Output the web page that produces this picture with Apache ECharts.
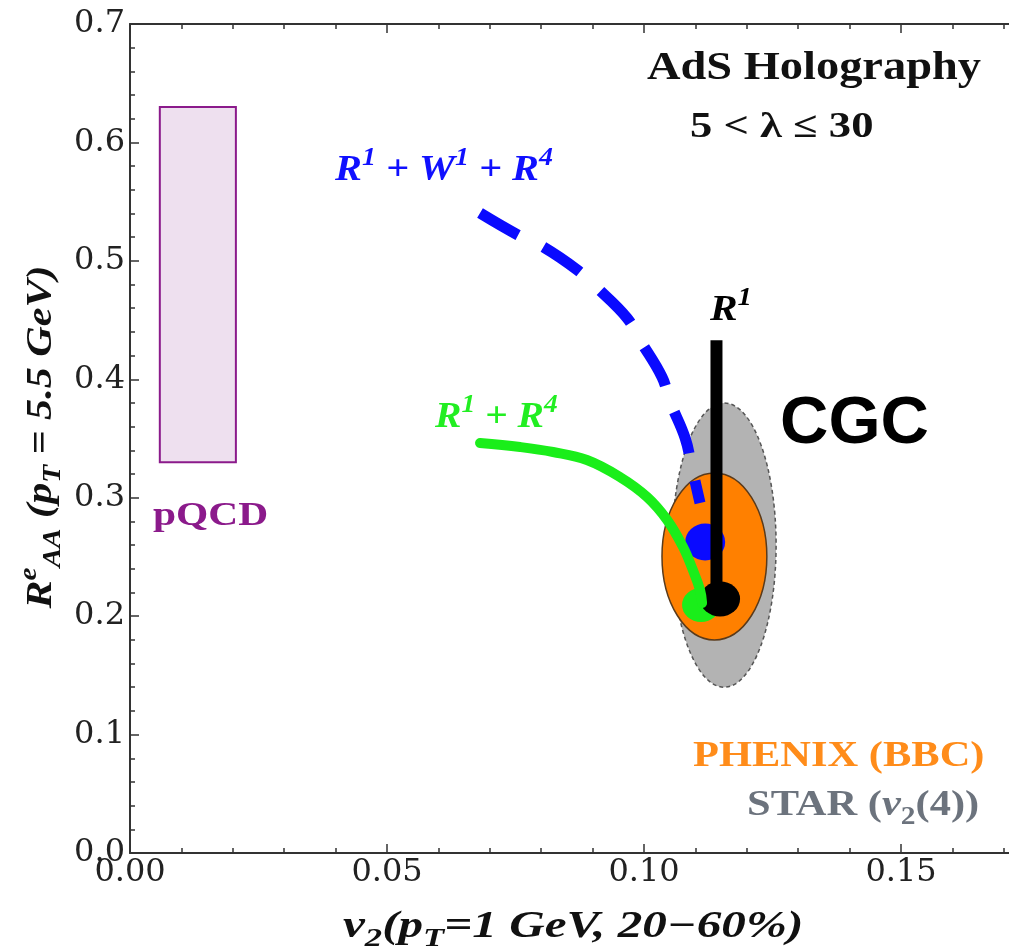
<!DOCTYPE html>
<html><head><meta charset="utf-8">
<script src="https://cdn.jsdelivr.net/npm/echarts@6/dist/echarts.min.js"></script>
<style>html,body{margin:0;padding:0;background:#fff}#c{width:1009px;height:949px}</style>
</head><body><div id="c"></div>
<script>
// ---- data ----
const xTickLabels = ['0.00', '0.05', '0.10', '0.15'];
const yTickLabels = ['0.0', '0.1', '0.2', '0.3', '0.4', '0.5', '0.6', '0.7'];

// pQCD band: [xMin, xMax, yMin, yMax]
const pqcdBox = [0.0058, 0.0206, 0.33, 0.63];
// ellipses: [centerX, centerY, halfWidthX, halfHeightY]
const starEllipse = [0.1156, 0.260, 0.0101, 0.120];
const phenixEllipse = [0.1137, 0.2504, 0.0102, 0.0705];

// R1+W1+R4 (blue dashed)
const blueX = [0.0681, 0.0755, 0.0804, 0.0870, 0.0909, 0.0967, 0.0992, 0.1035, 0.1051, 0.1080, 0.1093, 0.1109];
const blueY = [0.5404, 0.5218, 0.5117, 0.4923, 0.4771, 0.4518, 0.4332, 0.4019, 0.3808, 0.3504, 0.3259, 0.2955];
// R1+R4 (green)
const greenX = [0.0681, 0.0759, 0.0823, 0.0889, 0.0953, 0.1006, 0.1045, 0.1076, 0.1095, 0.1109, 0.1113];
const greenY = [0.3462, 0.3428, 0.3386, 0.3318, 0.3175, 0.3006, 0.2812, 0.2584, 0.2390, 0.2221, 0.2111];
// R1 (black vertical)
const r1X = [0.1141, 0.1141];
const r1Y = [0.433, 0.2145];

const blueDot = [0.1119, 0.2626];
const greenDot = [0.1111, 0.2094];
const blackDot = [0.1148, 0.2145];

// ---- helpers ----
const zip = (xs, ys) => xs.map((x, i) => [x, ys[i]]);
const SERIF = 'Liberation Serif';

function label(x, baseline, text, color, size, o) {
  o = o || {};
  const fam = o.family || SERIF;
  const L = Math.round(size * 1.35);
  const ss = Math.round(size * 0.7);
  const base = { fontFamily: fam, fontWeight: o.weight || 'bold', fill: color };
  const rich = {
    i: Object.assign({}, base, { fontSize: size, lineHeight: L, fontStyle: 'italic', verticalAlign: 'middle' }),
    n: Object.assign({}, base, { fontSize: size, lineHeight: L, fontStyle: 'normal', verticalAlign: 'middle' }),
    u: Object.assign({}, base, { fontSize: ss, lineHeight: ss + 8, fontStyle: o.italic ? 'italic' : 'normal', verticalAlign: 'top' }),
    d: Object.assign({}, base, { fontSize: ss, lineHeight: ss + 2, fontStyle: o.italic ? 'italic' : 'normal', verticalAlign: 'bottom' })
  };
  const el = {
    type: 'text', z: 100,
    scaleX: o.scaleX || 1,
    style: { text: text, rich: rich, align: o.align || 'left', verticalAlign: 'top' }
  };
  if (o.rotate) {
    el.x = x; el.y = baseline;
    el.rotation = o.rotate;
    el.style.verticalAlign = 'middle';
  } else {
    el.x = x;
    el.y = baseline - L / 2 - 0.3375 * size;
  }
  return el;
}

const axisCol = '#333';
const tickFmt = (labels, dec) => v => {
  const s = v.toFixed(dec);
  return labels.indexOf(s) >= 0 ? s : '';
};
function xAx(pos, showLabel) {
  return {
    type: 'value', position: pos, min: 0, max: 0.2, interval: 0.05,
    axisLine: { show: true, onZero: false, lineStyle: { color: axisCol, width: 2 } },
    axisTick: { show: true, inside: true, length: 9, lineStyle: { color: axisCol, width: 1.5 } },
    minorTick: { show: true, splitNumber: 5, length: 5, lineStyle: { color: axisCol, width: 1.5 } },
    splitLine: { show: false },
    axisLabel: { show: showLabel, formatter: tickFmt(xTickLabels, 2), fontFamily: 'DejaVu Serif', fontSize: 32, color: '#222', margin: 4 }
  };
}

const chart = echarts.init(document.getElementById('c'), null, { renderer: 'canvas' });

const option = {
  animation: false,
  backgroundColor: '#fff',
  grid: { left: 130, width: 1028, top: 24, bottom: 96, containLabel: false, outerBoundsMode: 'none' },
  xAxis: [xAx('bottom', true), xAx('top', false)],
  yAxis: {
    type: 'value', min: 0, max: 0.7, interval: 0.1,
    axisLine: { show: true, onZero: false, lineStyle: { color: axisCol, width: 2 } },
    axisTick: { show: true, inside: true, length: 9, lineStyle: { color: axisCol, width: 1.5 } },
    minorTick: { show: true, splitNumber: 5, length: 5, lineStyle: { color: axisCol, width: 1.5 } },
    splitLine: { show: false },
    axisLabel: { formatter: tickFmt(yTickLabels, 1), fontFamily: 'DejaVu Serif', fontSize: 32, color: '#222', margin: 5 }
  },
  series: [
    {
      type: 'custom', silent: true, data: [pqcdBox], encode: { x: [0, 1], y: [2, 3] },
      renderItem: (p, api) => {
        const a = api.coord([api.value(0), api.value(3)]);
        const b = api.coord([api.value(1), api.value(2)]);
        return { type: 'rect', shape: { x: a[0], y: a[1], width: b[0] - a[0], height: b[1] - a[1] },
          style: { fill: '#eee0ef', stroke: '#8b1a8b', lineWidth: 2 } };
      }
    },
    {
      type: 'custom', silent: true, data: [starEllipse], encode: { x: 0, y: 1 },
      renderItem: (p, api) => {
        const c = api.coord([api.value(0), api.value(1)]);
        const s = api.size([api.value(2), api.value(3)]);
        return { type: 'ellipse', shape: { cx: c[0], cy: c[1], rx: s[0], ry: s[1] },
          style: { fill: '#b3b3b3', stroke: '#555', lineWidth: 1.5, lineDash: [4, 3] } };
      }
    },
    {
      type: 'custom', silent: true, data: [phenixEllipse], encode: { x: 0, y: 1 },
      renderItem: (p, api) => {
        const c = api.coord([api.value(0), api.value(1)]);
        const s = api.size([api.value(2), api.value(3)]);
        return { type: 'ellipse', shape: { cx: c[0], cy: c[1], rx: s[0], ry: s[1] },
          style: { fill: '#ff8000', stroke: '#5a3a1a', lineWidth: 1.5 } };
      }
    },
    {
      type: 'line', silent: true, data: zip(blueX, blueY), smooth: 0.4, showSymbol: false, symbol: 'none',
      lineStyle: { color: '#0a0aff', width: 11, type: [44, 28], cap: 'butt', opacity: 1 }
    },
    {
      type: 'scatter', silent: true, data: [blueDot], symbol: 'circle', symbolSize: [40, 37],
      itemStyle: { color: '#0a0aff', opacity: 1 }
    },
    {
      type: 'line', silent: true, data: zip(greenX, greenY), smooth: 0.4, showSymbol: false, symbol: 'none',
      lineStyle: { color: '#1aee1a', width: 10, cap: 'round', opacity: 1 }
    },
    {
      type: 'scatter', silent: true, data: [greenDot], symbol: 'circle', symbolSize: [38, 34],
      itemStyle: { color: '#1aee1a', opacity: 1 }
    },
    {
      type: 'line', silent: true, data: zip(r1X, r1Y), showSymbol: false, symbol: 'none',
      lineStyle: { color: '#000', width: 12, cap: 'butt', opacity: 1 }
    },
    {
      type: 'scatter', silent: true, data: [blackDot], symbol: 'circle', symbolSize: [40, 35],
      itemStyle: { color: '#000', opacity: 1 }
    }
  ],
  graphic: [
    label(647, 82, '{n|AdS Holography}', '#111', 39, { scaleX: 1.19 }),
    label(690, 140, '{n|5 < λ ≤ 30}', '#111', 36, { scaleX: 1.24 }),
    label(335, 183, '{i|R}{u|1}{i| + W}{u|1}{i| + R}{u|4}', '#1010ff', 36, { italic: true, scaleX: 1.12 }),
    label(435, 430, '{i|R}{u|1}{i| + R}{u|4}', '#22ee22', 36, { italic: true, scaleX: 1.1 }),
    label(710, 323, '{i|R}{u|1}', '#000', 36, { italic: true, scaleX: 1.15 }),
    label(780, 447, '{n|CGC}', '#000', 67, { family: 'Liberation Sans' }),
    label(153, 528, '{n|pQCD}', '#8b1a8b', 34, { scaleX: 1.22 }),
    label(693, 769, '{n|PHENIX (BBC)}', '#ff8c1a', 36, { scaleX: 1.18 }),
    label(747, 818, '{n|STAR (}{i|v}{d|2}{n|(4))}', '#6c737d', 36, { scaleX: 1.18 }),
    label(343, 940, '{i|v}{d|2}{i|(p}{d|T}{i|=1 GeV, 20−60%)}', '#111', 37, { italic: true, scaleX: 1.33 }),
    label(42, 437, '{i|R}{u|e}{d|AA}{i| (p}{d|T}{i| = 5.5 GeV)}', '#111', 36, { italic: true, scaleX: 1.17, align: 'center', rotate: Math.PI / 2 })
  ]
};
chart.setOption(option);
</script>
</body></html>
